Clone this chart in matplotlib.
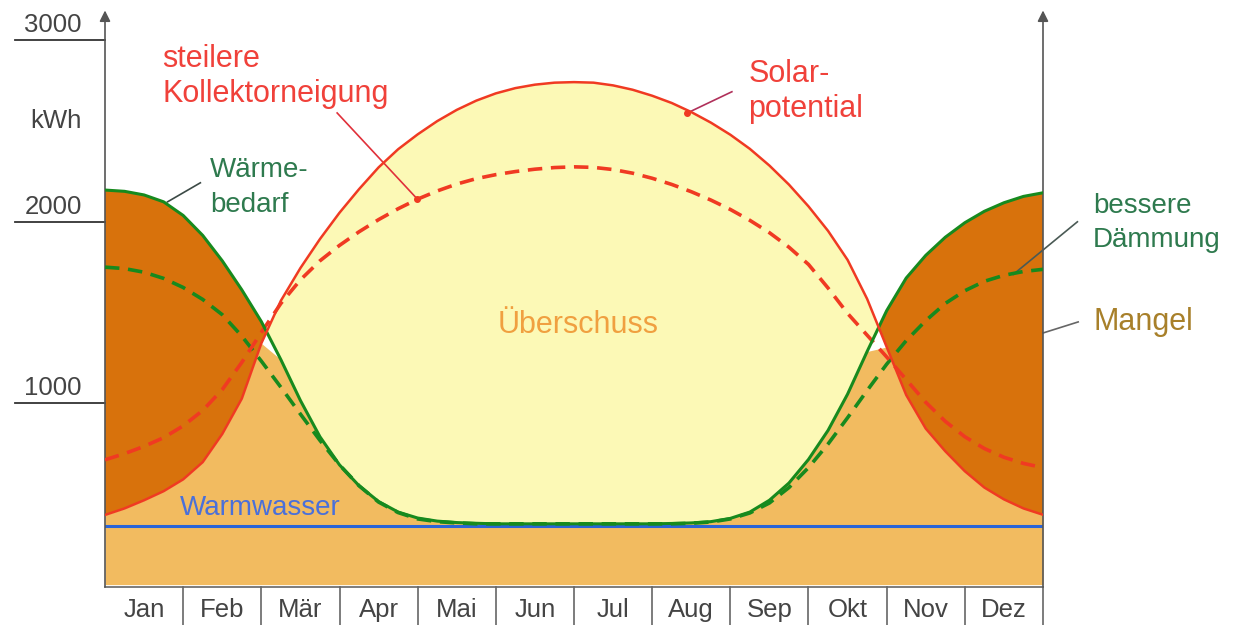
# Solar potential vs. heat demand over the year (kWh per month)

import numpy as np
import matplotlib
matplotlib.use('Agg')
import matplotlib.pyplot as plt

plt.rcParams['font.family'] = ['Liberation Sans', 'DejaVu Sans']

# sample grid: every quarter month, 0 = start of January, 12 = end of December
month_pos = np.arange(49) * 0.25
month_names = ['Jan', 'Feb', 'Mär', 'Apr', 'Mai', 'Jun', 'Jul', 'Aug', 'Sep', 'Okt', 'Nov', 'Dez']
yticks = [1000, 2000, 3000]

solar = [384, 420, 465, 515, 580, 675, 830, 1025, 1330, 1565, 1745, 1905,
         2050, 2180, 2300, 2400, 2482, 2555, 2617, 2668, 2708, 2737, 2756, 2767,
         2770, 2767, 2752, 2728, 2695, 2655, 2605, 2547, 2480, 2402, 2310, 2205,
         2085, 1950, 1790, 1575, 1310, 1045, 860, 735, 625, 535, 470, 420, 385]

solar_steep = [688, 722, 762, 810, 875, 960, 1075, 1225, 1390, 1550, 1680, 1785,
               1870, 1945, 2012, 2072, 2125, 2170, 2208, 2238, 2260, 2277, 2290, 2299,
               2303, 2300, 2288, 2268, 2240, 2206, 2166, 2120, 2068, 2008, 1940, 1860,
               1765, 1635, 1495, 1375, 1255, 1130, 1005, 900, 815, 750, 702, 668, 645]

demand = [2175, 2168, 2148, 2110, 2035, 1925, 1785, 1625, 1450, 1240, 1015, 815,
          660, 545, 458, 400, 367, 350, 342, 338, 335, 335, 335, 335,
          335, 335, 335, 335, 335, 337, 340, 347, 365, 400, 465, 560,
          690, 850, 1050, 1285, 1510, 1690, 1815, 1915, 1995, 2058, 2105, 2140, 2160]

demand_insulated = [1750, 1742, 1722, 1688, 1638, 1572, 1488, 1370, 1232, 1088, 940, 795,
                    660, 545, 455, 397, 362, 347, 340, 335, 335, 335, 335, 335,
                    335, 335, 335, 335, 335, 335, 338, 345, 362, 395, 450, 535,
                    645, 775, 920, 1070, 1215, 1345, 1455, 1550, 1620, 1672, 1705, 1726, 1738]

hot_water = 322

solar = np.array(solar)
solar_steep = np.array(solar_steep)
demand = np.array(demand)
demand_insulated = np.array(demand_insulated)

c_light = '#F2BB60'
c_dark = '#D8720C'
c_yellow = '#FCF9B6'
c_red = '#F03A22'
c_green = '#178A1E'
c_blue = '#2A64D8'
c_axis = '#555555'
c_text = '#444444'

fig = plt.figure(figsize=(12.39, 6.25), dpi=100)
ax = fig.add_axes([105 / 1239, 40.4 / 625, 938 / 1239, 544.2 / 625])
ax.set_xlim(0, 12)
ax.set_ylim(0, 3000)
ax.axis('off')

# areas
ax.fill_between(month_pos, 0, np.minimum(solar, demand), color=c_light, lw=0)
ax.fill_between(month_pos, solar, demand, where=demand >= solar, interpolate=True,
                color=c_dark, lw=0)
ax.fill_between(month_pos, demand, solar, where=solar >= demand, interpolate=True,
                color=c_yellow, lw=0)

# curves
ax.plot([0, 12], [hot_water, hot_water], color=c_blue, lw=2.2, zorder=3)
ax.plot(month_pos, demand_insulated, color=c_green, lw=2.6, dashes=(4, 2.4), zorder=4)
ax.plot(month_pos, solar_steep, color=c_red, lw=2.6, dashes=(4, 2.4), zorder=4)
ax.plot(month_pos, demand, color=c_green, lw=2.2, zorder=5)
ax.plot(month_pos, solar, color=c_red, lw=1.8, zorder=5)

# axes with arrows
for xa in [0, 12]:
    ax.annotate('', xy=(xa, 3165), xytext=(xa, -14), annotation_clip=False,
                arrowprops=dict(arrowstyle='-|>', color=c_axis, lw=1.2,
                                mutation_scale=16, shrinkA=0, shrinkB=0))

# y ticks: short lines left of the axis with the value above
for t in yticks:
    ax.plot([-1.15, 0], [t, t], color='#333333', lw=1.3, clip_on=False)
    ax.text(-1.03, t + 45, str(t), fontsize=18.5, color=c_text, ha='left', va='baseline')
ax.text(-0.96, 2518, 'kWh', fontsize=18.5, color=c_text, ha='left', va='baseline')

# month row
ax.plot([0, 12], [-14, -14], color='#666666', lw=1.2, clip_on=False)
for i, name in enumerate(month_names):
    ax.plot([i + 1, i + 1], [-14, -240], color='#666666', lw=1.2, clip_on=False)
    ax.text(i + 0.5, -179, name, fontsize=18.5, color=c_text, ha='center', va='baseline')

# labels
ax.text(0.73, 2855, 'steilere', fontsize=22, color='#F0413A', va='baseline')
ax.text(0.73, 2661, 'Kollektorneigung', fontsize=22, color='#F0413A', va='baseline')
ax.plot([2.97, 3.99], [2600, 2128], color='#E0303A', lw=1.2)
ax.plot([3.99], [2128], 'o', color=c_red, ms=4)

ax.text(1.34, 2248, 'Wärme-', fontsize=20, color='#2E7A4E', va='baseline')
ax.text(1.34, 2055, 'bedarf', fontsize=20, color='#2E7A4E', va='baseline')
ax.plot([1.22, 0.80], [2215, 2110], color='#3C4A46', lw=1.2)

ax.text(8.23, 2772, 'Solar-', fontsize=22, color='#F0413A', va='baseline')
ax.text(8.23, 2579, 'potential', fontsize=22, color='#F0413A', va='baseline')
ax.plot([8.02, 7.45], [2717, 2600], color='#B0305A', lw=1.2)
ax.plot([7.45], [2600], 'o', color=c_red, ms=4)

ax.text(5.02, 1388, 'Überschuss', fontsize=22, color='#F0A040', va='baseline')
ax.text(0.96, 384, 'Warmwasser', fontsize=20, color='#4A70DA', va='baseline')

ax.text(12.64, 2049, 'bessere', fontsize=20, color='#2E7A4E', va='baseline',
        clip_on=False)
ax.text(12.64, 1862, 'Dämmung', fontsize=20, color='#2E7A4E', va='baseline',
        clip_on=False)
ax.plot([12.44, 11.62], [2000, 1710], color='#4A5A55', lw=1.2, clip_on=False)

ax.text(12.64, 1404, 'Mangel', fontsize=22, color='#A8802A', va='baseline',
        clip_on=False)
ax.plot([12.45, 12.0], [1448, 1387], color='#666666', lw=1.2, clip_on=False)

fig.savefig('out.png', dpi=100, facecolor='white')
